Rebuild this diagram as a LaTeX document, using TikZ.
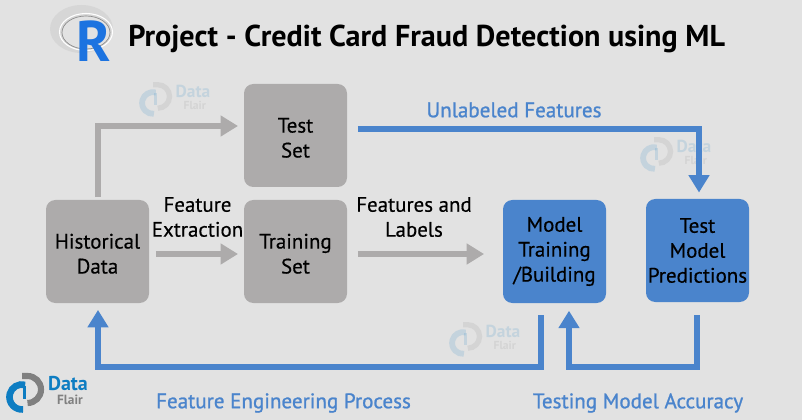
\documentclass[tikz,border=0pt]{standalone}
\usepackage{fontspec}
\setmainfont{PT Sans}
\usetikzlibrary{arrows.meta,calc}
\definecolor{bgc}{HTML}{E2E2E2}
\definecolor{boxgray}{HTML}{ADABAB}
\definecolor{boxblue}{HTML}{4A84CC}
\definecolor{arrgray}{HTML}{ADABAB}
\definecolor{dfblue}{HTML}{0E7DC2}
\definecolor{dfgray}{HTML}{808080}
\definecolor{rblue}{HTML}{1C73E0}
\newcommand{\lowtop}{\rule{0pt}{14.5pt}}
\tikzset{
  x=0.75pt,y=-0.75pt,
  procbox/.style={minimum width=77.25pt,minimum height=77.25pt,rounded corners=7pt,inner sep=0pt,align=center,font=\fontsize{15.7pt}{18.7pt}\selectfont\addfontfeature{FakeBold=0.4},text=black},
  graybox/.style={procbox,fill=boxgray},
  bluebox/.style={procbox,fill=boxblue},
  flow/.style={line width=4.8pt,-{Triangle[length=13pt,width=15pt]}},
  grayflow/.style={flow,draw=arrgray},
  blueflow/.style={flow,draw=boxblue},
  steplabel/.style={inner sep=0pt,align=center,font=\fontsize{15.7pt}{18.7pt}\selectfont\addfontfeature{FakeBold=0.4},text=black},
  bluelabel/.style={inner sep=0pt,font=\fontsize{15.8pt}{18pt}\selectfont\addfontfeature{FakeBold=1},text=boxblue},
  pics/dflogo/.style={code={
    \begin{scope}[yscale=-1]
      \draw[dfgray,line width=#1*4.6pt] (0,21) -- (5.5,21) arc[start angle=90,end angle=-90,x radius=13.5,y radius=13.5];
      \draw[dfblue,line width=#1*5pt] (3.2,12.1) arc[start angle=75,end angle=275,radius=12.5];
      \draw[dfblue,line width=#1*2.6pt] (2.5,11) -- (2.5,-2);
    \end{scope}
    \node[inner sep=0pt,text=dfblue] at (46,-13) {\fontsize{15pt}{15pt}\selectfont\bfseries Data};
    \node[inner sep=0pt,text=dfgray] at (48,3) {\fontsize{10pt}{10pt}\selectfont\bfseries Flair};
  }},
  faintlogo/.style={scale=0.87,transform shape,opacity=0.14},
}
\begin{document}
\begin{tikzpicture}
\useasboundingbox[fill=bgc] (0,0) rectangle (802,420);

% R logo
\fill[even odd rule,gray!32] (81.5,29) ellipse[x radius=31.5,y radius=24] (86,32.5) ellipse[x radius=24,y radius=16.5];
\draw[white,line width=0.8pt] (86,32) ellipse[x radius=26.5,y radius=18.5];
\draw[gray!90,line width=0.5pt] (86,32.5) ellipse[x radius=24,y radius=16.5];
\node[inner sep=0pt,text=rblue] (rmark) at (94,41) {\fontsize{43pt}{43pt}\selectfont\bfseries R};

% Title
\node[anchor=west,inner sep=0pt,text=black] (title) at (128,38.5) {\fontsize{22.6pt}{26pt}\selectfont\bfseries Project - Credit Card Fraud Detection using ML};

% Watermarks
\pic[faintlogo] at (153,103) {dflogo=0.87};
\pic[faintlogo] at (654,158) {dflogo=0.87};
\pic[faintlogo] at (463,343) {dflogo=0.87};
\pic at (22,397) {dflogo=1};

% Boxes
\node[graybox] (hist) at (97.5,251.5) {\lowtop Historical\\Data};
\node[graybox] (test) at (295.5,135.5) {\lowtop Test\\Set};
\node[graybox] (train) at (295.5,251.5) {\lowtop Training\\Set};
\node[bluebox] (model) at (554.5,251.5) {Model\\Training\\/Building};
\node[bluebox] (pred) at (697.5,250.5) [minimum height=77.25pt] {Test\\Model\\Predictions};

% Connector ends
\coordinate (testin) at (244,126);
\coordinate (testout) at (347,129);
\coordinate (predin) at (699,200);
\coordinate (modelfb) at (541,303);
\coordinate (predfb) at (697,303);
\coordinate (modelin) at (569,303);
\coordinate (histout) at (98,200);
\coordinate (histin) at (98,303);
\coordinate (fbleft) at (98,367);
\coordinate (fbmid) at (569,367);
\coordinate (histr) at (149,254);
\coordinate (trainl) at (244,254);
\coordinate (trainr) at (347,254);
\coordinate (modell) at (503,254);

% Grey connectors
\draw[grayflow,shorten <=2.2pt,shorten >=4.5pt] (histout) |- (testin);
\draw[grayflow,shorten <=5.2pt,shorten >=4.5pt] (histr) -- (trainl);
\draw[grayflow,shorten <=8.2pt,shorten >=14.2pt] (trainr) -- (modell);

% Blue connectors
\draw[blueflow,shorten <=8.2pt,shorten >=5.6pt] (testout) -| (predin);
\draw[blueflow,shorten <=9pt,shorten >=5.2pt] (modelfb) |- (fbleft) -- (histin);
\draw[blueflow,shorten <=9pt,shorten >=5.8pt] (predfb) |- (fbmid) -- (modelin);

% Labels
\node[steplabel] (fe) at (197.5,217) {Feature\\Extraction};
\node[steplabel] (fl) at (414,217) {Features and\\Labels};
\node[bluelabel] (ul) at (514,110) {Unlabeled Features};
\node[bluelabel] (fep) at (283.5,403) {Feature Engineering Process};
\node[bluelabel] (tma) at (638,403) {Testing Model Accuracy};
\end{tikzpicture}
\end{document}
